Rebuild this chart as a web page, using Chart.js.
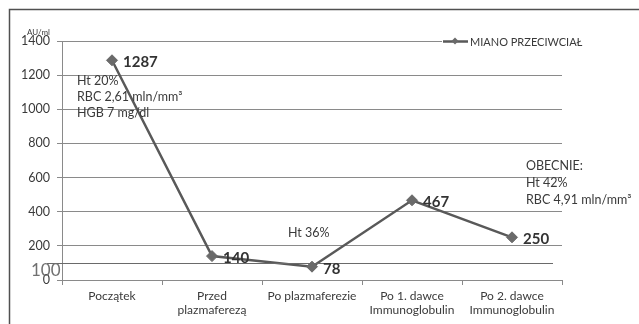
<!DOCTYPE html>
<html>
<head>
<meta charset="utf-8">
<script src="https://cdn.jsdelivr.net/npm/chart.js@4.4.1/dist/chart.umd.min.js"></script>
<style>
  html, body { margin: 0; padding: 0; background: #fff; }
  #wrap { width: 639px; height: 324px; }
</style>
</head>
<body>
<div id="wrap"><canvas id="titerChart" width="639" height="324"></canvas></div>
<script>
// dane wykresu
const categories = [
    ['Początek'],
    ['Przed', 'plazmaferezą'],
    ['Po plazmaferezie'],
    ['Po 1. dawce', 'Immunoglobulin'],
    ['Po 2. dawce', 'Immunoglobulin']
];
const titerValues = [1287, 140, 78, 467, 250];
const seriesLabel = 'MIANO PRZECIWCIAŁ';
const yTickValues = [0, 200, 400, 600, 800, 1000, 1200, 1400];
const yUnit = 'AU/ml';
const refLineValue = 100;
const notesStart = ['Ht 20%', 'RBC 2,61 mln/mm³', 'HGB 7 mg/dl'];
const notesMiddle = ['Ht 36%'];
const notesNow = ['OBECNIE:', 'Ht 42%', 'RBC 4,91 mln/mm³'];

const FONT = 'Lato, "Noto Sans", sans-serif';
const TEXT = '#3a3a3a';
const GRID = '#8a8a8a';

// rysowanie dodatkowych elementów (ramka, legenda, opisy)
const extrasPlugin = {
    id: 'extras',
    beforeDraw(chart) {
        const ctx = chart.ctx;
        ctx.save();
        ctx.fillStyle = '#fff';
        ctx.fillRect(0, 0, chart.width, chart.height);
        ctx.restore();
    },
    afterDraw(chart) {
        const ctx = chart.ctx;
        const y = chart.scales.y;
        const x = chart.scales.x;
        ctx.save();

        // ramka
        ctx.strokeStyle = '#505050';
        ctx.lineWidth = 1.5;
        ctx.strokeRect(9.5, 9.5, 640, 330);

        // linia 100
        const yRef = Math.round(y.getPixelForValue(refLineValue)) + 0.5;
        ctx.strokeStyle = '#6a6a6a';
        ctx.lineWidth = 1;
        ctx.beginPath();
        ctx.moveTo(47, yRef);
        ctx.lineTo(x.right - 9, yRef);
        ctx.stroke();
        ctx.fillStyle = '#707070';
        ctx.font = '17px ' + FONT;
        ctx.textBaseline = 'middle';
        ctx.textAlign = 'left';
        ctx.fillText(String(refLineValue), 31, yRef + 7);

        // jednostka
        ctx.fillStyle = TEXT;
        ctx.font = '8px ' + FONT;
        ctx.fillText(yUnit, 27, y.top - 9);

        // legenda
        const ly = y.getPixelForValue(yTickValues[yTickValues.length - 1]);
        ctx.fillStyle = '#fff';
        ctx.fillRect(442, ly - 6, x.right - 440, 12);
        ctx.strokeStyle = '#595959';
        ctx.lineWidth = 2.5;
        ctx.beginPath();
        ctx.moveTo(443, ly + 0.5);
        ctx.lineTo(468, ly + 0.5);
        ctx.stroke();
        ctx.fillStyle = '#6a6a6a';
        ctx.beginPath();
        ctx.moveTo(455, ly - 3.5);
        ctx.lineTo(458.5, ly);
        ctx.lineTo(455, ly + 3.5);
        ctx.lineTo(451.5, ly);
        ctx.closePath();
        ctx.fill();
        ctx.fillStyle = TEXT;
        ctx.font = '11px ' + FONT;
        ctx.fillText(seriesLabel, 470, ly + 1);

        // etykiety danych
        const meta = chart.getDatasetMeta(0);
        ctx.font = 'bold 15px ' + FONT;
        ctx.fillStyle = '#333';
        meta.data.forEach((pt, i) => {
            ctx.fillText(String(titerValues[i]), pt.x + 11, pt.y + 2);
        });

        // opisy
        ctx.font = '12.5px ' + FONT;
        ctx.fillStyle = TEXT;
        notesStart.forEach((t, i) => ctx.fillText(t, 77, 81 + i * 16));
        notesMiddle.forEach((t, i) => ctx.fillText(t, 288, 233 + i * 16));
        notesNow.forEach((t, i) => ctx.fillText(t, 526, 166 + i * 17));

        ctx.restore();
    }
};

const ctx = document.getElementById('titerChart').getContext('2d');
new Chart(ctx, {
    type: 'line',
    data: {
        labels: categories,
        datasets: [{
            label: seriesLabel,
            data: titerValues,
            borderColor: '#595959',
            borderWidth: 2.5,
            pointStyle: 'rectRot',
            pointRadius: 5.5,
            pointBackgroundColor: '#6a6a6a',
            pointBorderColor: '#6a6a6a',
            pointBorderWidth: 1,
            tension: 0
        }]
    },
    options: {
        responsive: false,
        animation: false,
        layout: { padding: { top: 41, right: 77, left: 0, bottom: 0 } },
        plugins: {
            legend: { display: false },
            tooltip: { enabled: false }
        },
        scales: {
            x: {
                offset: true,
                grid: {
                    offset: true,
                    drawOnChartArea: false,
                    drawTicks: true,
                    tickLength: 5,
                    color: GRID
                },
                border: { display: true, color: GRID },
                ticks: {
                    color: TEXT,
                    font: { family: FONT, size: 12 },
                    padding: 4,
                    maxRotation: 0,
                    autoSkip: false
                },
                afterFit: s => { s.height = 44; }
            },
            y: {
                min: 0,
                max: 1400,
                afterBuildTicks: s => { s.ticks = yTickValues.map(v => ({ value: v })); },
                grid: { color: GRID, tickLength: 5 },
                border: { display: true, color: GRID },
                ticks: {
                    color: TEXT,
                    font: { family: FONT, size: 12.5 },
                    padding: 7,
                    callback: v => String(v)
                },
                afterFit: s => { s.width = 62; }
            }
        }
    },
    plugins: [extrasPlugin]
});
</script>
</body>
</html>
